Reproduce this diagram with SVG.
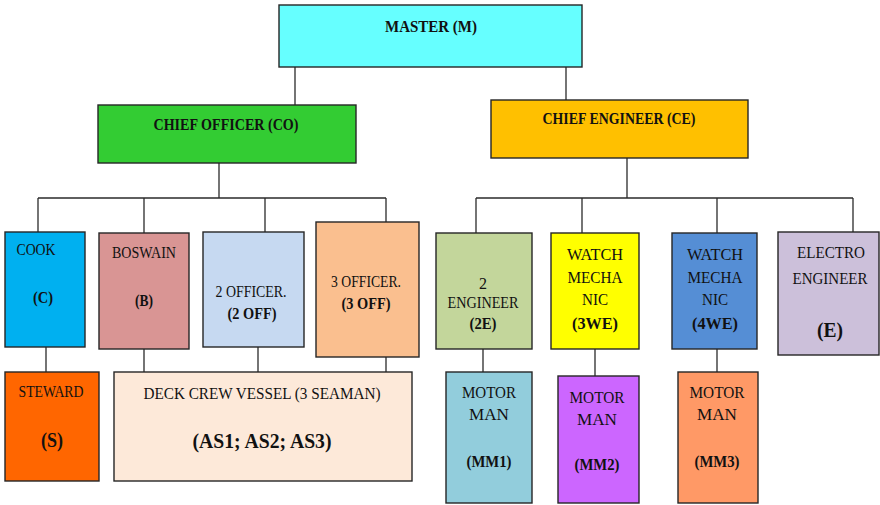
<svg xmlns="http://www.w3.org/2000/svg" width="880" height="505" viewBox="0 0 880 505">
<style>
rect{stroke:#262626;stroke-width:1.4}
.c line{stroke:#2a2a2a;stroke-width:1.3}
text{font-family:"Liberation Serif","DejaVu Serif","Times New Roman",serif;fill:#111;text-anchor:middle;font-size:16px}
.b{font-weight:bold}
.h{font-size:17px}
.l{font-size:20px}
</style>
<rect x="0" y="0" width="880" height="505" fill="#fff" style="stroke:none"/>
<g class="c">
<line x1="295" y1="67" x2="295" y2="105"/>
<line x1="566" y1="67" x2="566" y2="100"/>
<line x1="219" y1="163" x2="219" y2="198"/>
<line x1="38" y1="198" x2="386" y2="198"/>
<line x1="38" y1="198" x2="38" y2="232"/>
<line x1="144" y1="198" x2="144" y2="233"/>
<line x1="265" y1="198" x2="265" y2="232"/>
<line x1="386" y1="198" x2="386" y2="222"/>
<line x1="627" y1="158" x2="627" y2="198"/>
<line x1="476" y1="198" x2="853" y2="198"/>
<line x1="476" y1="198" x2="476" y2="233"/>
<line x1="582" y1="198" x2="582" y2="233"/>
<line x1="717" y1="198" x2="717" y2="233"/>
<line x1="853" y1="198" x2="853" y2="232"/>
<line x1="46" y1="343" x2="46" y2="372"/>
<line x1="144" y1="344" x2="144" y2="372"/>
<line x1="258" y1="342" x2="258" y2="372"/>
<line x1="386" y1="352" x2="386" y2="372"/>
<line x1="483" y1="344" x2="483" y2="372"/>
<line x1="595" y1="344" x2="595" y2="376"/>
<line x1="717" y1="344" x2="717" y2="372"/>
</g>
<g id="master"><rect x="279" y="5" width="303" height="62" fill="#66FFFF"/><text class="b h" x="431" y="32" textLength="92" lengthAdjust="spacingAndGlyphs">MASTER (M)</text></g>
<g id="co"><rect x="98" y="105" width="258" height="58" fill="#33CC33"/><text class="b h" x="226" y="130" textLength="145" lengthAdjust="spacingAndGlyphs">CHIEF OFFICER (CO)</text></g>
<g id="ce"><rect x="491" y="100" width="257" height="58" fill="#FFC000"/><text class="b h" x="619" y="124" textLength="153" lengthAdjust="spacingAndGlyphs">CHIEF ENGINEER (CE)</text></g>
<g id="cook"><rect x="5" y="232" width="80" height="115" fill="#00B0F0"/><text x="36" y="255" textLength="39" lengthAdjust="spacingAndGlyphs">COOK</text><text class="b h" x="43" y="303" textLength="20" lengthAdjust="spacingAndGlyphs">(C)</text></g>
<g id="boswain"><rect x="99" y="233" width="90" height="116" fill="#D99594"/><text x="144" y="258" textLength="64" lengthAdjust="spacingAndGlyphs">BOSWAIN</text><text class="b" x="144" y="306" textLength="18" lengthAdjust="spacingAndGlyphs">(B)</text></g>
<g id="off2"><rect x="203" y="232" width="101" height="115" fill="#C6D9F1"/><text x="251" y="297" textLength="71" lengthAdjust="spacingAndGlyphs">2 OFFICER.</text><text class="b" x="252" y="319" textLength="49" lengthAdjust="spacingAndGlyphs">(2 OFF)</text></g>
<g id="off3"><rect x="316" y="222" width="103" height="135" fill="#FABF8F"/><text x="366" y="287" textLength="70" lengthAdjust="spacingAndGlyphs">3 OFFICER.</text><text class="b" x="366" y="309" textLength="49" lengthAdjust="spacingAndGlyphs">(3 OFF)</text></g>
<g id="eng2"><rect x="436" y="233" width="96" height="116" fill="#C3D69B"/><text x="483" y="289">2</text><text x="483" y="308" textLength="71" lengthAdjust="spacingAndGlyphs">ENGINEER</text><text class="b" x="483" y="329" textLength="27" lengthAdjust="spacingAndGlyphs">(2E)</text></g>
<g id="we3"><rect x="551" y="233" width="88" height="116" fill="#FFFF00"/><text x="595" y="260" textLength="56" lengthAdjust="spacingAndGlyphs">WATCH</text><text x="595" y="283" textLength="55" lengthAdjust="spacingAndGlyphs">MECHA</text><text x="595" y="305" textLength="26" lengthAdjust="spacingAndGlyphs">NIC</text><text class="b h" x="595" y="329" textLength="46" lengthAdjust="spacingAndGlyphs">(3WE)</text></g>
<g id="we4"><rect x="672" y="233" width="85" height="116" fill="#558ED5"/><text x="715" y="260" textLength="56" lengthAdjust="spacingAndGlyphs">WATCH</text><text x="715" y="283" textLength="55" lengthAdjust="spacingAndGlyphs">MECHA</text><text x="715" y="305" textLength="26" lengthAdjust="spacingAndGlyphs">NIC</text><text class="b" x="715" y="329" textLength="46" lengthAdjust="spacingAndGlyphs">(4WE)</text></g>
<g id="electro"><rect x="778" y="232" width="101" height="123" fill="#CCC0DA"/><text x="831" y="258" textLength="68" lengthAdjust="spacingAndGlyphs">ELECTRO</text><text x="830" y="284" textLength="75" lengthAdjust="spacingAndGlyphs">ENGINEER</text><text class="b l" x="830" y="337" textLength="26" lengthAdjust="spacingAndGlyphs">(E)</text></g>
<g id="steward"><rect x="5" y="372" width="94" height="109" fill="#FF6600"/><text x="51" y="397" textLength="65" lengthAdjust="spacingAndGlyphs">STEWARD</text><text class="b l" x="52" y="447" textLength="22" lengthAdjust="spacingAndGlyphs">(S)</text></g>
<g id="deck"><rect x="114" y="372" width="298" height="109" fill="#FDE9D9"/><text x="262" y="399" textLength="237" lengthAdjust="spacingAndGlyphs">DECK CREW VESSEL (3 SEAMAN)</text><text class="b l" x="262" y="448" textLength="139" lengthAdjust="spacingAndGlyphs">(AS1; AS2; AS3)</text></g>
<g id="mm1"><rect x="446" y="372" width="86" height="131" fill="#92CDDC"/><text x="489" y="398" textLength="54" lengthAdjust="spacingAndGlyphs">MOTOR</text><text x="489" y="420" textLength="40" lengthAdjust="spacingAndGlyphs">MAN</text><text class="b" x="489" y="467" textLength="45" lengthAdjust="spacingAndGlyphs">(MM1)</text></g>
<g id="mm2"><rect x="558" y="376" width="81" height="127" fill="#CC66FF"/><text x="597" y="403" textLength="55" lengthAdjust="spacingAndGlyphs">MOTOR</text><text x="597" y="425" textLength="40" lengthAdjust="spacingAndGlyphs">MAN</text><text class="b" x="597" y="470" textLength="45" lengthAdjust="spacingAndGlyphs">(MM2)</text></g>
<g id="mm3"><rect x="678" y="372" width="80" height="131" fill="#FF9966"/><text x="717" y="398" textLength="55" lengthAdjust="spacingAndGlyphs">MOTOR</text><text x="717" y="420" textLength="40" lengthAdjust="spacingAndGlyphs">MAN</text><text class="b" x="717" y="467" textLength="45" lengthAdjust="spacingAndGlyphs">(MM3)</text></g>
</svg>
